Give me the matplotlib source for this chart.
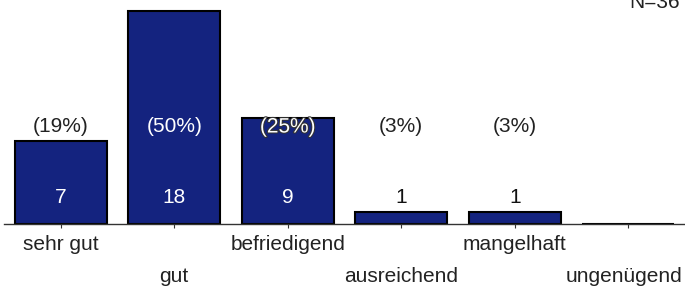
import matplotlib.pyplot as plt
import matplotlib.patheffects as pe

plt.rcParams['font.family'] = ['Liberation Sans', 'DejaVu Sans']

categories = ['sehr gut', 'gut', 'befriedigend', 'ausreichend', 'mangelhaft', 'ungenügend']
counts = [7, 18, 9, 1, 1, 0]
percents = ['(19%)', '(50%)', '(25%)', '(3%)', '(3%)', '']
n_total = 36

fig = plt.figure(figsize=(6.85, 2.91), dpi=100)
ax = fig.add_axes([4 / 685, 67 / 291, 681 / 685, 224 / 291])

x = range(len(categories))
ax.bar(x, counts, width=0.81, color='#14237F', edgecolor='black', linewidth=1.5, zorder=2)

ax.set_xlim(-0.5, 5.5)
ax.set_ylim(0, 224 / 11.83)

for s in ['top', 'right', 'left']:
    ax.spines[s].set_visible(False)
ax.spines['bottom'].set_color('#333333')
ax.spines['bottom'].set_linewidth(1.0)
ax.set_yticks([])
ax.set_xticks(list(x))
ax.set_xticklabels([])
ax.tick_params(axis='x', length=3, width=0.8, color='#333333')

pct_y = 8.2
cnt_y = 2.2
for i, (c, p) in enumerate(zip(counts, percents)):
    if p:
        if c > pct_y + 0.8:
            ax.text(i, pct_y, p, ha='center', va='center', fontsize=15, color='white', zorder=3)
        elif c > pct_y - 0.8:
            ax.text(i, pct_y, p, ha='center', va='center', fontsize=15, color='white', zorder=3,
                    path_effects=[pe.withStroke(linewidth=1.5, foreground='#333333')])
        else:
            ax.text(i, pct_y, p, ha='center', va='center', fontsize=15, color='#222222', zorder=3)
    if c > 0:
        cc = 'white' if c > cnt_y + 0.6 else '#111111'
        ax.text(i, cnt_y, str(c), ha='center', va='center', fontsize=15, color=cc, zorder=3)

tr = ax.get_xaxis_transform()
for i, lab in enumerate(categories):
    y = -0.05 if i % 2 == 0 else -0.19
    if i == len(categories) - 1:
        # last label is pushed in so it stays on the page
        ax.text(5.5 - 3 / 113.5, y, lab, transform=tr, ha='right', va='top', fontsize=15, color='#222222')
    else:
        ax.text(i, y, lab, transform=tr, ha='center', va='top', fontsize=15, color='#222222')

fig.text(680 / 685, 1 - 8 / 291, f'N={n_total}', ha='right', va='baseline', fontsize=15, color='#222222')

fig.savefig('out.png', dpi=100)
